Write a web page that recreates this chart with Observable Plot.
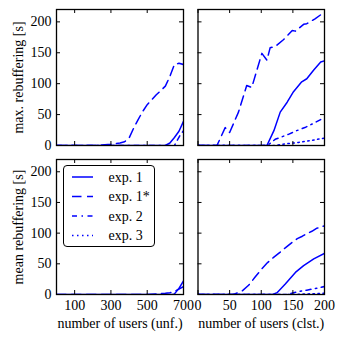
<!DOCTYPE html>
<html><head><meta charset="utf-8">
<script src="https://cdn.jsdelivr.net/npm/d3@7"></script>
<script src="https://cdn.jsdelivr.net/npm/@observablehq/plot@0.6"></script>
<style>
body{margin:0;background:#fff;}
#chart{position:relative;width:343px;height:341px;font-family:"Liberation Serif","Times New Roman",serif;}
#chart svg.pl{position:absolute;left:0;top:0;}
#chart svg text{font-family:"Liberation Serif","Times New Roman",serif;}
#legend{position:absolute;left:63px;top:165px;width:92px;height:82px;box-sizing:border-box;border:1.3px solid #000;border-radius:4px;background:#fff;}
</style></head><body><div id="chart"></div>
<script>
const yTicks = [0, 50, 100, 150, 200];
const unfTicks = [100, 300, 500, 700];
const clstTicks = [0, 50, 100, 150, 200];
const seriesNames = ["exp. 1", "exp. 1*", "exp. 2", "exp. 3"];

// max rebuffering, unf.
const maxUnfExp1X  = [0, 600, 625, 650, 675, 700];
const maxUnfExp1Y  = [0, 0, 4, 13, 23, 39];
const maxUnfExp1sX = [0, 225, 250, 300, 325, 350, 375, 400, 425, 450, 475, 500, 525, 550, 575, 600, 625, 650, 675, 700];
const maxUnfExp1sY = [0, 0, 1, 2, 3, 4, 6, 12, 28, 42, 55, 66, 74, 82, 89, 96, 112, 131, 133, 131];
const maxUnfExp2X  = [0, 650, 680, 700];
const maxUnfExp2Y  = [0, 0, 16, 24];

// max rebuffering, clst.
const maxClsExp1X  = [0, 109, 120, 130, 141, 151, 164, 172, 183, 194, 200];
const maxClsExp1Y  = [0, 0, 24, 54, 70, 87, 103, 108, 122, 135, 137];
const maxClsExp1sX = [0, 30, 43, 50, 64, 77, 85, 94, 101, 109, 114, 122, 135, 149, 154, 167, 172, 185, 199];
const maxClsExp1sY = [0, 0, 29, 21, 54, 97, 94, 125, 149, 138, 158, 160, 171, 186, 185, 196, 197, 205, 215];
const maxClsExp2X  = [0, 110, 122, 143, 156, 169, 183, 196, 200];
const maxClsExp2Y  = [0, 0, 10, 18, 24, 29, 36, 43, 45];
const maxClsExp3X  = [0, 120, 133, 159, 178, 194, 200];
const maxClsExp3Y  = [0, 0, 2, 5, 8, 11, 12];

// mean rebuffering, unf.
const meanUnfExp1X  = [0, 640, 650, 675, 700];
const meanUnfExp1Y  = [0, 0, 1, 10, 22];
const meanUnfExp1sX = [0, 500, 550, 600, 625, 650, 675, 700];
const meanUnfExp1sY = [0, 0, 1, 2, 3, 5, 9, 13];

// mean rebuffering, clst.
const meanClsExp1X  = [0, 118, 125, 138, 154, 167, 183, 200];
const meanClsExp1Y  = [0, 0, 3, 17, 36, 47, 58, 67];
const meanClsExp1sX = [0, 56, 70, 80, 90, 101, 110, 120, 130, 138, 150, 157, 165, 172, 180, 188, 200];
const meanClsExp1sY = [0, 0, 6, 15, 28, 42, 52, 61, 69, 76, 86, 91, 95, 99, 103, 108, 112];
const meanClsExp2X  = [0, 140, 159, 172, 191, 200];
const meanClsExp2Y  = [0, 0, 5, 7, 11, 13];
const meanClsExp3X  = [0, 150, 200];
const meanClsExp3Y  = [0, 0, 2];

const dash = {"exp. 1": null, "exp. 1*": "9.5,5.5", "exp. 2": "5,4.5,1.5,4.5", "exp. 3": "1.5,3.5"};
const blue = "#0000ff";
const FONT = "'Liberation Serif', 'Times New Roman', serif";

const rows = (name, xs, ys) => xs.map((x, i) => ({name, x, y: ys[i]}));

function panel({series, xDomain, xTicks, xLabels, yLabels, ylabel, xlabel, m}) {
  const W = 343, H = 341;
  const fw = W - m[0] - m[1], fh = H - m[2] - m[3], t = 4;
  const marks = [];
  for (const s of series) {
    marks.push(Plot.line(s, {x: "x", y: "y", stroke: blue, strokeWidth: 1.5,
      strokeDasharray: dash[s[0].name], clip: true}));
  }
  marks.push(Plot.frame({stroke: "black", strokeWidth: 1.3}));
  marks.push(Plot.tickY(yTicks, {y: d => d, insetRight: fw - t, stroke: "black"}));
  marks.push(Plot.tickY(yTicks, {y: d => d, insetLeft: fw - t, stroke: "black"}));
  marks.push(Plot.tickX(xTicks, {x: d => d, insetTop: fh - t, stroke: "black"}));
  marks.push(Plot.tickX(xTicks, {x: d => d, insetBottom: fh - t, stroke: "black"}));
  if (yLabels) marks.push(Plot.axisY(yTicks, {tickSize: 0, tickPadding: 5, label: null}));
  if (xLabels) marks.push(Plot.axisX(xTicks, {tickSize: 0, tickPadding: 6, label: null}));
  if (ylabel) marks.push(Plot.text([ylabel], {text: d => d, frameAnchor: "left", dx: -38, rotate: -90, textAnchor: "middle", lineAnchor: "middle"}));
  if (xlabel) marks.push(Plot.text([xlabel], {text: d => d, frameAnchor: "bottom", dy: 29, textAnchor: "middle", lineAnchor: "middle"}));
  const svg = Plot.plot({
    width: W, height: H,
    marginLeft: m[0], marginRight: m[1], marginTop: m[2], marginBottom: m[3],
    x: {domain: xDomain, axis: null},
    y: {domain: [0, 220], axis: null},
    style: {background: "transparent", fontFamily: FONT, fontSize: "14px", overflow: "visible", color: "black"},
    marks
  });
  svg.classList.add("pl");
  return svg;
}

const chart = document.getElementById("chart");
chart.appendChild(panel({
  series: [rows("exp. 1", maxUnfExp1X, maxUnfExp1Y), rows("exp. 1*", maxUnfExp1sX, maxUnfExp1sY), rows("exp. 2", maxUnfExp2X, maxUnfExp2Y)],
  xDomain: [0, 700], xTicks: unfTicks, xLabels: false, yLabels: true,
  ylabel: "max. rebuffering [s]", m: [56, 160, 9, 196]
}));
chart.appendChild(panel({
  series: [rows("exp. 1", maxClsExp1X, maxClsExp1Y), rows("exp. 1*", maxClsExp1sX, maxClsExp1sY), rows("exp. 2", maxClsExp2X, maxClsExp2Y), rows("exp. 3", maxClsExp3X, maxClsExp3Y)],
  xDomain: [0, 200], xTicks: clstTicks, xLabels: false, yLabels: false,
  m: [197.5, 19, 9, 196]
}));
chart.appendChild(panel({
  series: [rows("exp. 1", meanUnfExp1X, meanUnfExp1Y), rows("exp. 1*", meanUnfExp1sX, meanUnfExp1sY)],
  xDomain: [0, 700], xTicks: unfTicks, xLabels: true, yLabels: true,
  ylabel: "mean rebuffering [s]", xlabel: "number of users (unf.)", m: [56, 160, 159, 47]
}));
chart.appendChild(panel({
  series: [rows("exp. 1", meanClsExp1X, meanClsExp1Y), rows("exp. 1*", meanClsExp1sX, meanClsExp1sY), rows("exp. 2", meanClsExp2X, meanClsExp2Y), rows("exp. 3", meanClsExp3X, meanClsExp3Y)],
  xDomain: [0, 200], xTicks: clstTicks, xLabels: true, yLabels: false,
  xlabel: "number of users (clst.)", m: [197.5, 19, 159, 47]
}));

// legend
const leg = document.createElement("div");
leg.id = "legend";
chart.appendChild(leg);
const ls = d3.select(leg).append("svg").attr("width", 90).attr("height", 80)
  .style("position", "absolute").style("left", "0").style("top", "0");
seriesNames.forEach((name, i) => {
  const y = 11 + i * 19.5;
  ls.append("line").attr("x1", 8).attr("x2", 29).attr("y1", y).attr("y2", y)
    .attr("stroke", blue).attr("stroke-width", 1.5).attr("stroke-dasharray", dash[name]);
  ls.append("text").attr("x", 44.5).attr("y", y).attr("dy", "0.35em")
    .attr("font-family", FONT).attr("font-size", 14).text(name);
});
</script>
</body></html>
